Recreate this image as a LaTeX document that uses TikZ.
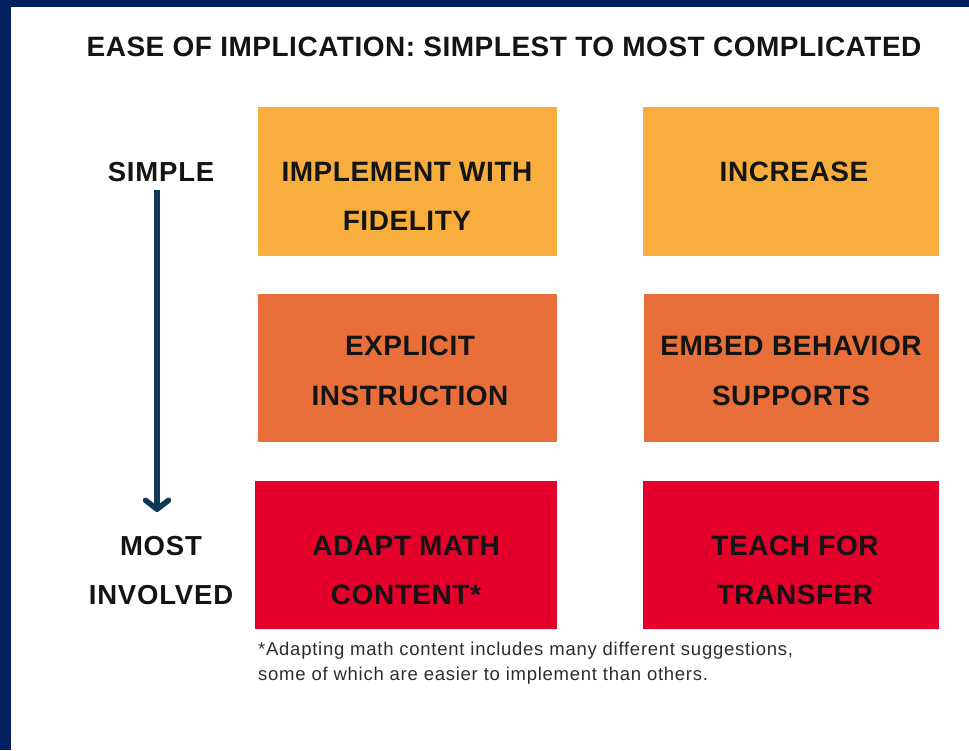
\documentclass[tikz,border=0pt]{standalone}
\usepackage{fontspec}
\setmainfont{Liberation Sans}
\newfontfamily\labelfont[LetterSpace=2]{Liberation Sans}
\newfontfamily\sidefont[LetterSpace=3]{Liberation Sans}
\newfontfamily\titlefont[LetterSpace=1.8]{Liberation Sans}
\newfontfamily\notefont[LetterSpace=4]{Liberation Sans}
\usetikzlibrary{arrows.meta}
\definecolor{navy}{RGB}{0,32,96}
\definecolor{arrowblue}{RGB}{14,58,88}
\definecolor{tierone}{RGB}{248,174,60}
\definecolor{tiertwo}{RGB}{232,111,58}
\definecolor{tierthree}{RGB}{228,0,43}
\definecolor{ink}{RGB}{20,20,20}
\definecolor{notegray}{RGB}{45,45,45}
\begin{document}
\begin{tikzpicture}[x=1pt,y=-1pt,
  boxtext/.style={anchor=base,inner sep=0pt,text=ink,font=\labelfont\bfseries\fontsize{28}{28}\selectfont},
  sidetext/.style={anchor=base,inner sep=0pt,text=ink,font=\sidefont\bfseries\fontsize{27.5}{28}\selectfont},
  notetext/.style={anchor=base west,inner sep=0pt,text=notegray,font=\notefont\fontsize{18.5}{19}\selectfont}]
  \useasboundingbox (0,0) rectangle (969,750);
  \fill[white] (0,0) rectangle (969,750);
  % frame on the left and top edges
  \fill[navy] (0,0) rectangle (11,750);
  \fill[navy] (0,0) rectangle (969,7);

  % title
  \node[anchor=base,inner sep=0pt,text=ink,font=\titlefont\bfseries\fontsize{28}{28}\selectfont]
    (title) at (504,56) {EASE OF IMPLICATION: SIMPLEST TO MOST COMPLICATED};

  % tier boxes
  \fill[tierone]   (258,107) rectangle (557,256);
  \fill[tierone]   (643,107) rectangle (939,256);
  \fill[tiertwo]   (258,294) rectangle (557,442);
  \fill[tiertwo]   (644,294) rectangle (939,442);
  \fill[tierthree] (255,481) rectangle (557,629);
  \fill[tierthree] (643,481) rectangle (939,629);

  % box labels
  \node[boxtext] (a1) at (407,181) {IMPLEMENT WITH};
  \node[boxtext] (a2) at (407,230) {FIDELITY};
  \node[boxtext] (b1) at (794,181) {INCREASE};
  \node[boxtext] (c1) at (410,355) {EXPLICIT};
  \node[boxtext] (c2) at (410,405) {INSTRUCTION};
  \node[boxtext] (d1) at (791,355) {EMBED BEHAVIOR};
  \node[boxtext] (d2) at (791,405) {SUPPORTS};
  \node[boxtext] (e1) at (406,555) {ADAPT MATH};
  \node[boxtext] (e2) at (406,604) {CONTENT*};
  \node[boxtext] (f1) at (795,555) {TEACH FOR};
  \node[boxtext] (f2) at (795,604) {TRANSFER};

  % scale on the left
  \node[sidetext] (simple) at (161,181) {SIMPLE};
  \node[sidetext] (most) at (161,555) {MOST};
  \node[sidetext] (involved) at (161,604) {INVOLVED};
  \coordinate (arrtop) at (157,190);
  \coordinate (arrend) at (157,512);
  \draw[arrowblue,line width=5.5pt,
    -{Straight Barb[length=9pt,width=23pt,line cap=round,line join=round]}]
    (arrtop) -- (arrend);

  % footnote
  \node[notetext] (note1) at (258,655) {*Adapting math content includes many different suggestions,};
  \node[notetext] (note2) at (258,680) {some of which are easier to implement than others.};
\end{tikzpicture}
\end{document}
